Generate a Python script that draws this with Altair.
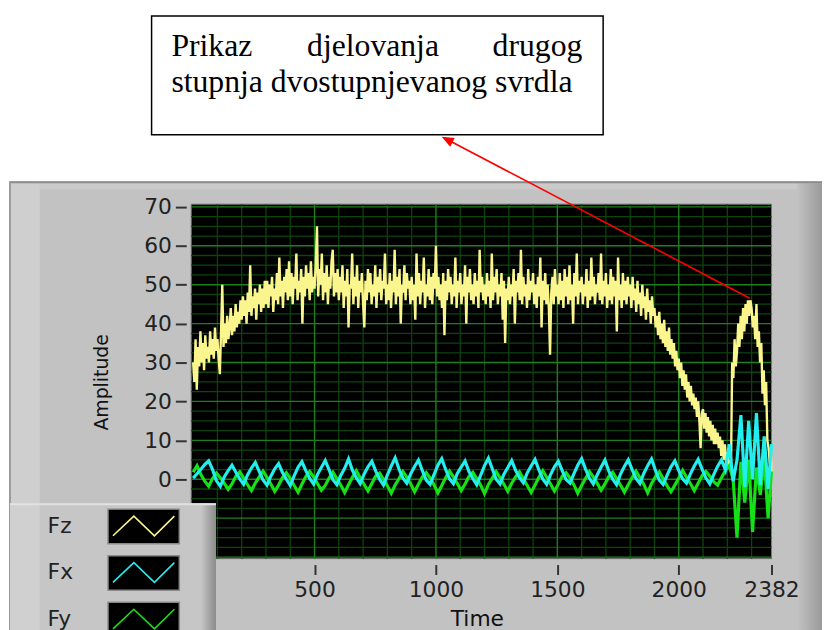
import altair as alt
import pandas as pd

# ---------------- data ----------------
# Fz sampled every 5 time units (0..2380) plus the last sample at 2382
FZ_T = list(range(0, 2381, 5)) + [2382]
FZ = [
    30, 25, 36, 23, 34, 29, 38, 30, 35, 28, 37, 31, 34, 30, 38, 32, 36, 31, 39, 33,
    36, 31, 27, 38, 50, 34, 40, 35, 42, 36, 39, 44, 37, 42, 38, 45, 39, 43, 40, 46,
    41, 47, 42, 46, 40, 48, 43, 55, 42, 47, 44, 49, 41, 48, 45, 50, 43, 49, 44, 51,
    45, 51, 44, 50, 47, 52, 43, 49, 46, 53, 45, 57, 47, 51, 44, 52, 48, 54, 46, 56,
    47, 53, 45, 52, 49, 58, 46, 51, 48, 54, 40, 52, 47, 55, 49, 53, 46, 56, 48, 52,
    49, 55, 65, 47, 54, 50, 58, 46, 53, 48, 55, 45, 52, 49, 56, 59, 47, 53, 48, 54,
    46, 52, 48, 55, 44, 51, 47, 54, 39, 50, 49, 58, 45, 52, 47, 55, 44, 51, 48, 53,
    45, 39, 51, 46, 54, 48, 53, 45, 50, 47, 55, 44, 52, 48, 54, 46, 51, 49, 58, 45,
    50, 46, 53, 44, 51, 48, 59, 45, 52, 47, 54, 40, 50, 48, 55, 46, 53, 49, 51, 45,
    52, 46, 50, 41, 58, 47, 53, 45, 51, 48, 57, 44, 50, 47, 54, 46, 52, 45, 53, 49,
    60, 47, 52, 46, 50, 44, 53, 37, 51, 46, 54, 48, 52, 45, 50, 47, 57, 44, 51, 48,
    53, 45, 50, 47, 55, 40, 52, 48, 54, 46, 50, 45, 53, 47, 51, 44, 59, 48, 52, 46,
    50, 45, 53, 47, 51, 44, 58, 46, 52, 48, 54, 45, 50, 47, 53, 41, 51, 35, 49, 46,
    52, 45, 50, 47, 54, 40, 51, 48, 53, 46, 59, 45, 52, 47, 50, 44, 54, 46, 51, 48,
    53, 45, 50, 44, 52, 47, 57, 39, 51, 46, 53, 45, 50, 44, 32, 48, 52, 45, 54, 47,
    50, 45, 53, 46, 51, 44, 54, 47, 52, 45, 55, 46, 50, 40, 53, 47, 58, 45, 51, 48,
    52, 45, 50, 47, 54, 44, 51, 46, 57, 47, 52, 45, 50, 48, 53, 46, 58, 45, 51, 47,
    53, 44, 50, 46, 54, 45, 52, 47, 51, 38, 57, 46, 50, 44, 53, 46, 51, 45, 52, 47,
    50, 44, 52, 46, 49, 43, 51, 45, 48, 42, 50, 44, 47, 41, 49, 43, 46, 40, 47, 42,
    44, 39, 42, 37, 43, 36, 40, 35, 41, 34, 38, 33, 39, 32, 36, 31, 35, 29, 33, 28,
    31, 26, 30, 24, 28, 23, 27, 21, 25, 20, 24, 19, 22, 18, 21, 16, 20, 15, 8, 17,
    18, 13, 17, 12, 16, 11, 15, 10, 14, 9, 13, 9, 12, 8, 11, 6, 10, 5, 9, 4,
    7, 3, 5, 2, 30, 26, 36, 29, 33, 40, 34, 42, 36, 44, 38, 45, 40, 46, 42, 46,
    44, 39, 42, 36, 45, 34, 38, 30, 35, 22, 28, 19, 25, 10, 8, 4, 6,
    1,
]

# Fx and Fy sampled every 16 time units (0..2368) plus 2382
FXY_T = list(range(0, 2369, 16)) + [2382]
FX = [
    0.3, 1.4, 2.6, 3.8, 4.7, 2.5,
    -0.4, -1.8, 0.6, 2.2, 3.6, 1.8,
    0.1, -1.3, 1.1, 2.9, 4.3, 2.0,
    -0.2, -1.5, 0.8, 2.7, 4.0, 1.7,
    0.0, -1.6, 0.9, 3.1, 4.5, 2.2,
    0.2, -1.2, 1.2, 3.0, 4.8, 2.4,
    -0.1, -1.4, 1.0, 2.8, 5.2, 2.3,
    0.4, -1.1, 1.3, 3.2, 4.6, 2.1,
    0.0, -1.5, 1.1, 3.4, 5.5, 2.6,
    0.3, -1.0, 1.4, 3.3, 4.9, 2.2,
    -0.2, -1.3, 1.2, 3.6, 5.3, 2.5,
    0.1, -1.1, 1.5, 3.1, 4.7, 2.0,
    0.2, -1.4, 1.0, 3.5, 5.4, 2.7,
    0.0, -1.2, 1.3, 3.0, 4.8, 2.3,
    0.4, -0.9, 1.6, 3.4, 5.1, 2.4,
    0.1, -1.3, 1.2, 3.2, 4.6, 2.2,
    -0.1, -1.0, 1.4, 3.6, 5.3, 2.6,
    0.3, -1.2, 1.1, 3.1, 4.9, 2.1,
    0.0, -1.4, 1.3, 3.3, 5.0, 2.5,
    0.2, -1.1, 1.5, 3.5, 5.2, 2.3,
    -0.2, -1.3, 1.0, 3.2, 4.7, 2.2,
    0.1, -1.0, 1.4, 3.4, 5.1, 2.6,
    0.3, -1.2, 1.2, 3.3, 5.0, 2.4,
    9.0, -0.5, 5.0, 16.5, -2.0, 15.0, 0.0, 17.0, -1.5, 11.0, -2.5, 9.0,
]
FY = [
    1.8, 3.5, 1.2, -0.5, -1.8, 0.2,
    1.6, 0.4, -1.0, -2.6, -1.2, 0.8,
    1.9, 0.3, -1.4, -2.9, -1.0, 0.6,
    2.1, 0.5, -1.2, -3.1, -1.5, 0.4,
    1.7, 0.2, -1.6, -3.3, -1.3, 0.7,
    2.0, 0.6, -1.1, -2.8, -1.6, 0.3,
    1.8, 0.1, -1.5, -3.4, -1.4, 0.5,
    2.2, 0.4, -1.3, -3.0, -1.1, 0.8,
    1.6, 0.0, -1.7, -3.6, -1.5, 0.2,
    2.0, 0.5, -1.2, -3.2, -1.3, 0.6,
    1.7, 0.3, -1.4, -3.5, -1.6, 0.4,
    2.1, 0.6, -1.1, -2.9, -1.2, 0.7,
    1.8, 0.2, -1.5, -3.7, -1.4, 0.3,
    2.0, 0.4, -1.3, -3.1, -1.0, 0.6,
    1.9, 0.1, -1.6, -3.4, -1.5, 0.5,
    2.2, 0.5, -1.2, -3.0, -1.3, 0.8,
    1.7, 0.3, -1.4, -3.6, -1.6, 0.2,
    2.0, 0.6, -1.0, -2.8, -1.2, 0.7,
    1.8, 0.2, -1.5, -3.3, -1.4, 0.4,
    2.1, 0.4, -1.3, -3.5, -1.1, 0.6,
    1.9, 0.1, -1.7, -3.2, -1.5, 0.3,
    2.3, 0.5, -1.1, -2.9, -1.0, 0.9,
    2.0, 0.8, -0.6, -1.5, 0.4, 2.2,
    3.5, 0.0, -15.0, 4.5, -6.0, 5.0, -13.5, 3.0, -4.0, 5.5, -10.0, 2.0,
]

SERIES = ["Fz", "Fx", "Fy"]
COLORS = {"Fz": "#fbf58e", "Fx": "#22eef0", "Fy": "#16e016"}

X_TICKS = [500, 1000, 1500, 2000, 2382]
Y_TICKS = [0, 10, 20, 30, 40, 50, 60, 70]
GRID_T_MINOR = [100, 200, 300, 400, 600, 700, 800, 900, 1100, 1200, 1300, 1400,
                1600, 1700, 1800, 1900, 2100, 2200, 2300]
GRID_T_MAJOR = [500, 1000, 1500, 2000]
GRID_V_MINOR = [-17.5, -15, -12.5, -7.5, -5, -2.5, 2.5, 5, 7.5, 12.5, 15, 17.5,
                22.5, 25, 27.5, 32.5, 35, 37.5, 42.5, 45, 47.5, 52.5, 55, 57.5,
                62.5, 65, 67.5]
GRID_V_MAJOR = [-20, -10, 0, 10, 20, 30, 40, 50, 60, 70]

TITLE_LINE1 = ["Prikaz", "djelovanja", "drugog"]
TITLE_LINE2 = "stupnja dvostupnjevanog svrdla"

# ---------------- layout ----------------
W, H = 586, 358
one = pd.DataFrame({"k": [0]})

xs = alt.Scale(domain=[-8, 2382], nice=False, zero=False)
ys = alt.Scale(domain=[-20.4, 70.7], nice=False, zero=False)
LBL = dict(labelFont="DejaVu Sans", labelFontSize=22, labelColor="#222222",
           tickColor="#333333", tickWidth=2, domain=False, grid=False,
           title=None, zindex=1, labelOverlap=False, format="d")
xaxis = alt.Axis(values=X_TICKS, tickSize=10, offset=6, labelPadding=5,
                 labelFlush=False, **LBL)
yaxis = alt.Axis(values=Y_TICKS, tickSize=11, offset=5, labelPadding=4, **LBL)


def X(f="t:Q"):
    return alt.X(f, scale=xs, axis=xaxis)


def Y(f="v:Q"):
    return alt.Y(f, scale=ys, axis=yaxis)


def prect(x0, y0, x1, y1, **kw):
    return alt.Chart(one).mark_rect(**kw).encode(
        x=alt.value(x0), x2=alt.value(x1), y=alt.value(y0), y2=alt.value(y1))


def ptext(txt, x, y, **kw):
    return alt.Chart(one).mark_text(text=txt, **kw).encode(
        x=alt.value(x), y=alt.value(y))


def hgrad(c0, c1):
    return alt.LinearGradient(gradient="linear", x1=0, x2=1, y1=0, y2=0,
                              stops=[alt.GradientStop(offset=0, color=c0),
                                     alt.GradientStop(offset=1, color=c1)])


layers = []
# LabVIEW grey panel
layers.append(prect(-183, -23, 637, 430, fill="#c2c2c2"))
layers.append(prect(-183, -21, 637, -15, fill="#cacaca"))
layers.append(prect(-183, -21, -153, 430, fill="#cfcfcf"))
layers.append(prect(612, -21, 637, 430, fill=hgrad("#c2c2c2", "#9a9a9a")))
layers.append(prect(-183, -23, 637, -21, fill="#8c8c8c"))
layers.append(prect(-184, -23, -182, 430, fill="#9a9a9a"))

# black plot area
layers.append(prect(0, 0, W, H, fill="#000000", stroke="#7a7a7a", strokeWidth=1))

# grid
gtm = pd.DataFrame({"t": GRID_T_MINOR})
gtM = pd.DataFrame({"t": GRID_T_MAJOR})
gvm = pd.DataFrame({"v": GRID_V_MINOR})
gvM = pd.DataFrame({"v": GRID_V_MAJOR})
layers.append(alt.Chart(gvm).mark_rule(color="#0c440c", strokeWidth=1.3).encode(
    y=Y(), x=alt.value(0), x2=alt.value(W)))
layers.append(alt.Chart(gtm).mark_rule(color="#0c440c", strokeWidth=1.3).encode(
    x=X(), y=alt.value(0), y2=alt.value(H)))
layers.append(alt.Chart(gvM).mark_rule(color="#1d801d", strokeWidth=1.4).encode(
    y=Y(), x=alt.value(0), x2=alt.value(W)))
layers.append(alt.Chart(gtM).mark_rule(color="#1d801d", strokeWidth=1.4).encode(
    x=X(), y=alt.value(0), y2=alt.value(H)))

# series
fz = pd.DataFrame({"t": FZ_T, "v": FZ})
fx = pd.DataFrame({"t": FXY_T, "v": FX})
fy = pd.DataFrame({"t": FXY_T, "v": FY})
layers.append(alt.Chart(fz).mark_line(color=COLORS["Fz"], strokeWidth=2.4).encode(x=X(), y=Y()))
layers.append(alt.Chart(fy).mark_line(color=COLORS["Fy"], strokeWidth=3.2).encode(x=X(), y=Y()))
layers.append(alt.Chart(fx).mark_line(color=COLORS["Fx"], strokeWidth=3.2).encode(x=X(), y=Y()))

# axis titles
layers.append(ptext("Amplitude", -90, 180, angle=270, align="center", baseline="middle",
                    font="DejaVu Sans", fontSize=19, color="#111111"))
layers.append(ptext("Time", 289, 426, align="center", baseline="alphabetic",
                    font="DejaVu Sans", fontSize=22, color="#111111"))

# legend panel
layers.append(prect(-183, 302, 25, 430, fill="#c6c6c6"))
layers.append(prect(-183, 302, -153, 430, fill="#d0d0d0"))
layers.append(prect(10, 302, 25, 430, fill=hgrad("#c6c6c6", "#8a8a8a")))
layers.append(prect(-183, 302, 25, 304, fill="#e2e2e2"))
ZIG = "M-1,0.32L-0.32,-0.32L0.35,0.32L1,-0.32"
for i, name in enumerate(SERIES):
    y0 = 308 + 47 * i
    layers.append(ptext(name, -145, 332 + 47 * i, align="left", baseline="alphabetic",
                        font="DejaVu Sans", fontSize=22, color="#222222"))
    layers.append(prect(-84, y0, -12, y0 + 35, fill="#000000", stroke="#8a8a8a",
                        strokeWidth=1.5))
    layers.append(alt.Chart(one).mark_point(shape=ZIG, size=3844, filled=False,
                                            strokeWidth=1.6, color=COLORS[name],
                                            opacity=1).encode(
        x=alt.value(-48), y=alt.value(y0 + 17)))

# annotation box with arrow
layers.append(prect(-40, -190, 416, -70, fill="#ffffff", stroke="#000000", strokeWidth=1.5))
TF = dict(font="Liberation Serif", fontSize=32, color="#000000", baseline="alphabetic")
layers.append(ptext(TITLE_LINE1[0], -20, -150, align="left", **TF))
layers.append(ptext(TITLE_LINE1[1], 117, -150, align="left", **TF))
layers.append(ptext(TITLE_LINE1[2], 395, -150, align="right", **TF))
layers.append(ptext(TITLE_LINE2, -20, -113, align="left", **TF))
layers.append(alt.Chart(one).mark_rule(color="#ff0000", strokeWidth=1.6).encode(
    x=alt.value(257), y=alt.value(-66), x2=alt.value(564), y2=alt.value(95)))
layers.append(alt.Chart(one).mark_point(shape="M0,-1L0.8,1L-0.8,1Z", size=150, filled=True,
                                        color="#ff0000", opacity=1, angle=297.7).encode(
    x=alt.value(258.4), y=alt.value(-65.2)))

chart = alt.layer(*layers).properties(
    width=W, height=H,
    padding={"left": 185, "top": 195, "right": 51, "bottom": 69},
    autosize=alt.AutoSizeParams(type="none"),
    background="#ffffff",
).configure_view(stroke=None)

chart.save("out.html", embed_options={"renderer": "svg", "actions": False})
